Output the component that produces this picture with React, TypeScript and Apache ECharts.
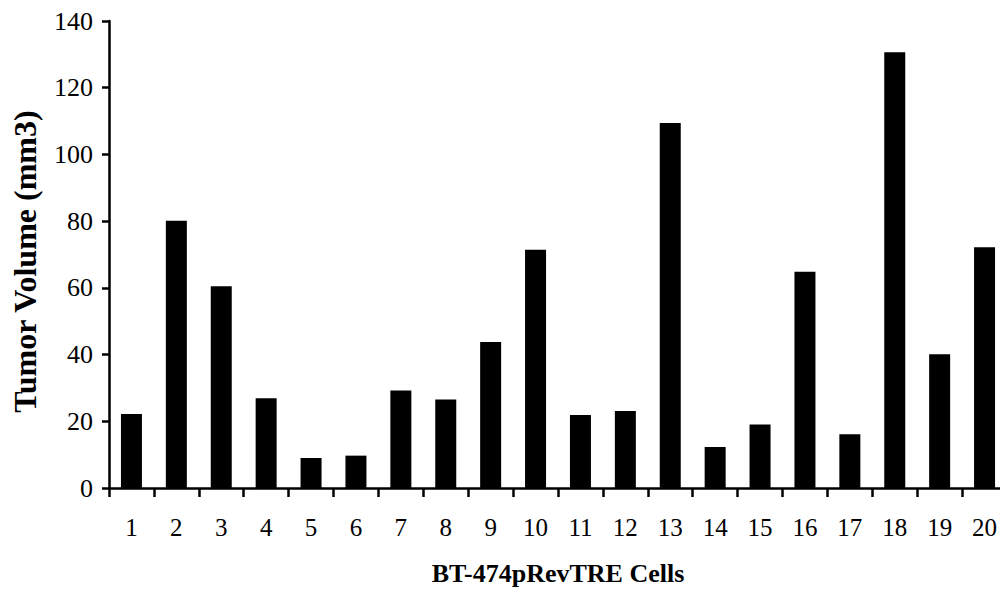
import React, { useEffect, useRef } from "react";
import * as echarts from "echarts";

const categories = ["1","2","3","4","5","6","7","8","9","10","11","12","13","14","15","16","17","18","19","20"];
const tumorVolume = [22.2, 80.1, 60.5, 26.9, 9.0, 9.7, 29.2, 26.5, 43.8, 71.4, 21.9, 23.1, 109.4, 12.3, 19.0, 64.8, 16.1, 130.6, 40.1, 72.2];
const yTicks = { min: 0, max: 140, interval: 20 };
const xTitle = "BT-474pRevTRE Cells";
const yTitle = "Tumor Volume (mm3)";

const FONT = "'Liberation Serif', 'Times New Roman', 'DejaVu Serif', serif";

export default function App() {
  const ref = useRef<HTMLDivElement>(null);
  useEffect(() => {
    if (!ref.current) return;
    const chart = echarts.init(ref.current, undefined, { renderer: "svg" });
    chart.setOption({
      animation: false,
      backgroundColor: "#ffffff",
      textStyle: { fontFamily: FONT, color: "#000" },
      grid: {
        left: 109,
        top: 21,
        bottom: 104,
        right: -7,
        containLabel: false,
        outerBoundsMode: "none",
      },
      xAxis: {
        type: "category",
        data: categories,
        boundaryGap: true,
        name: xTitle,
        nameLocation: "middle",
        nameGap: 72,
        nameTextStyle: { fontFamily: FONT, fontSize: 26, fontWeight: "bold", color: "#000" },
        axisLine: { show: true, lineStyle: { color: "#000", width: 2.5 } },
        axisTick: { show: true, alignWithLabel: false, length: 9, lineStyle: { color: "#000", width: 2.5 } },
        axisLabel: { fontFamily: FONT, fontSize: 25, color: "#000", margin: 27, interval: 0 },
        splitLine: { show: false },
      },
      yAxis: {
        type: "value",
        min: yTicks.min,
        max: yTicks.max,
        interval: yTicks.interval,
        name: yTitle,
        nameLocation: "middle",
        nameGap: 68,
        nameRotate: 90,
        nameTextStyle: {
          fontFamily: FONT,
          fontSize: 32,
          fontWeight: "bold",
          color: "#000",
          padding: [0, 14, 0, 0],
        },
        axisLine: { show: true, lineStyle: { color: "#000", width: 2.5 } },
        axisTick: { show: true, length: 7, lineStyle: { color: "#000", width: 2.5 } },
        axisLabel: { fontFamily: FONT, fontSize: 26, color: "#000", margin: 16 },
        splitLine: { show: false },
      },
      series: [
        {
          type: "bar",
          data: tumorVolume,
          barWidth: 21,
          itemStyle: { color: "#000" },
        },
      ],
    });
    return () => chart.dispose();
  }, []);
  return (
    <div
      ref={ref}
      style={{ position: "fixed", left: 0, top: 0, width: 1000, height: 592, background: "#fff" }}
    />
  );
}
